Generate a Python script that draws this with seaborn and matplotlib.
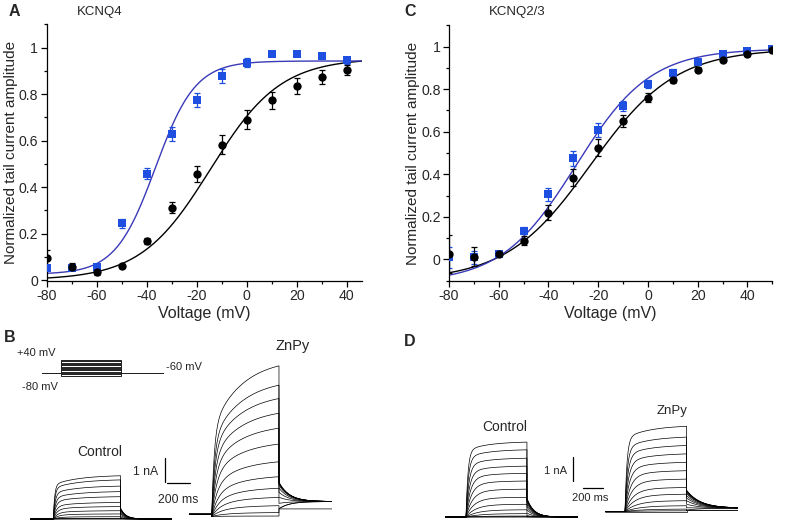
import numpy as np
import pandas as pd
import matplotlib
matplotlib.use("Agg")
import matplotlib.pyplot as plt
import seaborn as sns
from matplotlib.ticker import MultipleLocator, FixedLocator, FixedFormatter

sns.set_theme(style="ticks")
plt.rcParams['font.family'] = ['Liberation Sans', 'DejaVu Sans']
plt.rcParams['axes.unicode_minus'] = False

# ---------------- data: normalized tail current (panels A, C) ----------------
volt_A = [-80, -70, -60, -50, -40, -30, -20, -10, 0, 10, 20, 30, 40]
ctrl_A = [0.097, 0.057, 0.036, 0.060, 0.169, 0.312, 0.458, 0.583, 0.690, 0.774, 0.835, 0.874, 0.903]
ctrl_A_err = [0.034, 0.015, 0.015, 0.008, 0.012, 0.022, 0.035, 0.040, 0.040, 0.036, 0.035, 0.030, 0.022]
znpy_A = [0.050, 0.052, 0.055, 0.244, 0.458, 0.630, 0.776, 0.877, 0.936, 0.974, 0.974, 0.964, 0.946]
znpy_A_err = [0.008, 0.008, 0.008, 0.020, 0.025, 0.030, 0.030, 0.030, 0.020, 0.010, 0.008, 0.012, 0.015]

volt_C = [-80, -70, -60, -50, -40, -30, -20, -10, 0, 10, 20, 30, 40, 50]
ctrl_C = [0.024, 0.013, 0.024, 0.088, 0.219, 0.384, 0.525, 0.650, 0.760, 0.842, 0.892, 0.936, 0.966, 0.983]
ctrl_C_err = [0.09, 0.045, 0.008, 0.02, 0.035, 0.04, 0.04, 0.03, 0.02, 0.015, 0.012, 0.01, 0.008, 0.006]
znpy_C = [0.010, 0.010, 0.024, 0.135, 0.306, 0.475, 0.608, 0.721, 0.823, 0.878, 0.929, 0.966, 0.978, 0.987]
znpy_C_err = [0.05, 0.03, 0.008, 0.015, 0.03, 0.035, 0.035, 0.025, 0.02, 0.018, 0.012, 0.01, 0.008, 0.006]

# Boltzmann fit parameters (A1, A2, V50, k)
fit_ctrl_A = [0.0, 0.955, -14.5, 14.0]
fit_znpy_A = [0.025, 0.943, -36.5, 8.0]
fit_ctrl_C = [-0.10, 0.99, -23.0, 17.0]
fit_znpy_C = [-0.11, 0.99, -29.0, 15.0]

# ---------------- data: current traces (panels B, D), nA at end of step ----------------
amp_B_ctrl = [0.0, 0.01, 0.03, 0.10, 0.22, 0.36, 0.54, 0.72, 0.97, 1.19, 1.43, 1.70, 1.88]
amp_B_znpy = [0.02, 0.17, 0.47, 0.83, 1.23, 1.73, 2.38, 3.15, 3.84, 4.49, 5.13, 5.71, 6.55]
amp_D_ctrl = [0.0, 0.01, 0.04, 0.14, 0.30, 0.53, 0.82, 1.16, 1.50, 1.82, 2.12, 2.45, 2.80, 3.12]
amp_D_znpy = [0.0, 0.03, 0.10, 0.24, 0.45, 0.72, 1.00, 1.35, 1.70, 2.05, 2.40, 2.75, 3.10, 3.55]
protocol_steps = [-80, -70, -60, -50, -40, -30, -20, -10, 0, 10, 20, 30, 40]
protocol_hold = -60

BLUE_MK = "#1f4fe0"
BLUE_LN = "#3a3ab8"

W, H = 802, 527
fig = plt.figure(figsize=(W / 100, H / 100), dpi=100)


def px_axes(x0, y0, x1, y1):
    return fig.add_axes([x0 / W, 1 - y1 / H, (x1 - x0) / W, (y1 - y0) / H])


def ftext(x, y, s, **kw):
    fig.text(x / W, 1 - y / H, s, **kw)


def boltz(v, p):
    a1, a2, v50, k = p
    return a2 + (a1 - a2) / (1 + np.exp((v - v50) / k))


def iv_panel(ax, volt, ctrl, cerr, znpy, zerr, pc, pz, xlim, ylim):
    vf = np.linspace(xlim[0], xlim[1], 300)
    sns.lineplot(x=vf, y=boltz(vf, pc), ax=ax, color="black", lw=1.0, estimator=None, sort=False)
    sns.lineplot(x=vf, y=boltz(vf, pz), ax=ax, color=BLUE_LN, lw=1.0, estimator=None, sort=False)
    ax.errorbar(volt, znpy, yerr=zerr, fmt="none", ecolor=BLUE_MK, elinewidth=0.9, capsize=2, capthick=0.9, zorder=3)
    ax.errorbar(volt, ctrl, yerr=cerr, fmt="none", ecolor="black", elinewidth=0.9, capsize=2, capthick=0.9, zorder=3)
    sns.scatterplot(x=volt, y=znpy, ax=ax, marker="s", s=28, color=BLUE_MK, edgecolor=BLUE_MK, linewidth=0, zorder=4)
    sns.scatterplot(x=volt, y=ctrl, ax=ax, marker="o", s=36, color="black", edgecolor="black", linewidth=0, zorder=5)
    ax.set_xlim(*xlim)
    ax.set_ylim(*ylim)
    sns.despine(ax=ax)
    ax.xaxis.set_major_locator(FixedLocator([-80, -60, -40, -20, 0, 20, 40]))
    ax.xaxis.set_minor_locator(MultipleLocator(10))
    yt = [0, 0.2, 0.4, 0.6, 0.8, 1.0]
    ax.yaxis.set_major_locator(FixedLocator(yt))
    ax.yaxis.set_major_formatter(FixedFormatter(["0", "0.2", "0.4", "0.6", "0.8", "1"]))
    ax.yaxis.set_minor_locator(MultipleLocator(0.1))
    ax.tick_params(which="major", direction="out", length=4, width=0.9, labelsize=10.2, pad=2, color="black")
    ax.tick_params(which="minor", direction="out", length=2.5, width=0.9, color="black")
    for s in ("left", "bottom"):
        ax.spines[s].set_linewidth(0.9)
        ax.spines[s].set_color("black")
    ax.set_xlabel("Voltage (mV)", fontsize=11.5, labelpad=2)
    ax.set_ylabel("Normalized tail current amplitude", fontsize=11, labelpad=0.5)


axA = px_axes(46.7, 24.5, 361.7, 281)
iv_panel(axA, volt_A, ctrl_A, ctrl_A_err, znpy_A, znpy_A_err, fit_ctrl_A, fit_znpy_A, (-80, 46), (-0.004, 1.1))
axC = px_axes(449, 25.3, 772.3, 280.6)
iv_panel(axC, volt_C, ctrl_C, ctrl_C_err, znpy_C, znpy_C_err, fit_ctrl_C, fit_znpy_C, (-80, 50), (-0.1, 1.1))


# ---------------- current traces ----------------
def trace_axes(onset_px, base_px, px_per_ms, px_per_nA, t_range, i_range):
    t0, t1 = t_range
    i0, i1 = i_range
    ax = px_axes(onset_px + t0 * px_per_ms, base_px - i1 * px_per_nA,
                 onset_px + t1 * px_per_ms, base_px - i0 * px_per_nA)
    ax.set_xlim(t0, t1)
    ax.set_ylim(i0, i1)
    ax.axis("off")
    return ax


def draw_traces(ax, amps, tail_norm, pre, step, tail, tau_f, tau_s, a_fast,
                tail_lo, tail_hi, tail_inf, tau_tail, pre_level=0.0):
    amps = np.asarray(amps, float)
    n = len(amps)
    tfs = np.geomspace(tau_f[1], tau_f[0], n)  # slow at negative, fast at positive steps
    tn = np.asarray(tail_norm, float)
    tn = (tn - tn.min()) / (tn.max() - tn.min())
    rows = []
    t_on = np.linspace(0, step, 400)
    t_tl = np.linspace(0, tail, 250)
    for i in range(n):
        shape = 1 - a_fast * np.exp(-t_on / tfs[i]) - (1 - a_fast) * np.exp(-t_on / tau_s)
        cur = amps[i] * shape / shape[-1]
        i0 = tail_lo + (tail_hi - tail_lo) * tn[i]
        inf = tail_inf if amps[i] > 0.05 else min(tail_inf, i0)
        ctail = inf + (i0 - inf) * np.exp(-t_tl / tau_tail)
        t = np.concatenate([[-pre, 0], t_on, step + t_tl])
        y = np.concatenate([[pre_level, pre_level], cur, ctail])
        rows.append(pd.DataFrame({"t": t, "i": y, "trace": i}))
    df = pd.concat(rows, ignore_index=True)
    sns.lineplot(data=df, x="t", y="i", units="trace", estimator=None, sort=False,
                 ax=ax, color="black", lw=0.5, legend=False)


# B: KCNQ4
pxms_B = 23 / 200
axBc = trace_axes(53.3, 519, pxms_B, 23, (-200, 1030), (-0.3, 2.3))
draw_traces(axBc, amp_B_ctrl, ctrl_A, 200, 585, 445, (12, 80), 220, 0.78,
            0.0, 0.47, 0.0, 45)
axBz = trace_axes(211.7, 516.5, pxms_B, 23, (-200, 1045), (-0.3, 7.0))
draw_traces(axBz, amp_B_znpy, znpy_A, 200, 585, 460, (22, 110), 260, 0.55,
            0.33, 1.48, 0.65, 90, pre_level=0.1)

# protocol (B)
axP = px_axes(41.7, 360, 163.3, 375.7)
pt = [0, 150, 150, 626, 626, 960]
prot = []
for k, v in enumerate(protocol_steps):
    prot.append(pd.DataFrame({"t": pt, "v": [protocol_hold, protocol_hold, v, v, protocol_hold, protocol_hold], "s": k}))
prot = pd.concat(prot, ignore_index=True)
sns.lineplot(data=prot, x="t", y="v", units="s", estimator=None, sort=False, ax=axP,
             color="#222222", lw=0.7, legend=False)
for ln in axP.lines:
    ln.set_clip_on(False)
axP.set_xlim(0, 960)
axP.set_ylim(-80, 40)
axP.axis("off")

# scale bars B
axSB = trace_axes(165, 482.5, pxms_B, 24, (0, 220), (0, 1))
axSB.plot([0, 0], [0.03, 1.03], color="black", lw=0.9, clip_on=False)
axSB.plot([15, 215], [-0.03, -0.03], color="black", lw=0.9, clip_on=False)

# D: KCNQ2/3
pxms_D = 19.5 / 200
axDc = trace_axes(466, 517, pxms_D, 24, (-215, 1150), (-0.3, 3.4))
draw_traces(axDc, amp_D_ctrl, ctrl_C, 215, 625, 530, (20, 260), 220, 0.88,
            0.0, 0.78, 0.0, 70)
axDz = trace_axes(625, 511.5, pxms_D, 24, (-205, 1160), (-0.3, 3.9))
draw_traces(axDz, amp_D_znpy, znpy_C, 205, 632, 530, (20, 260), 260, 0.85,
            0.05, 0.88, 0.14, 140)

axSD = trace_axes(573.3, 480.7, pxms_D, 24, (0, 300), (0, 1))
axSD.plot([0, 0], [0, 1], color="black", lw=0.9, clip_on=False)
axSD.plot([100, 300], [-0.29, -0.29], color="black", lw=0.9, clip_on=False)

# ---------------- text ----------------
ftext(14, 12, "A", fontsize=11.5, fontweight="bold", ha="center", va="center")
ftext(100, 12, "KCNQ4", fontsize=9.5, ha="center", va="center")
ftext(410, 12, "C", fontsize=11.5, fontweight="bold", ha="center", va="center")
ftext(517, 12, "KCNQ2/3", fontsize=9.5, ha="center", va="center")
ftext(10, 337, "B", fontsize=11.5, fontweight="bold", ha="center", va="center")
ftext(410, 341, "D", fontsize=11.5, fontweight="bold", ha="center", va="center")

ftext(36, 353, "+40 mV", fontsize=8, ha="center", va="center")
ftext(40, 387, "-80 mV", fontsize=8, ha="center", va="center")
ftext(184, 367, "-60 mV", fontsize=8, ha="center", va="center")
ftext(99.5, 452, "Control", fontsize=10, ha="center", va="center")
ftext(293, 346, "ZnPy", fontsize=10.5, ha="center", va="center")
ftext(158, 472, "1 nA", fontsize=8.8, ha="right", va="center")
ftext(178.5, 500, "200 ms", fontsize=8.8, ha="center", va="center")

ftext(504.7, 427, "Control", fontsize=10, ha="center", va="center")
ftext(671.7, 411, "ZnPy", fontsize=9.5, ha="center", va="center")
ftext(567, 471, "1 nA", fontsize=8, ha="right", va="center")
ftext(590.5, 498, "200 ms", fontsize=8, ha="center", va="center")

fig.savefig("out.png", dpi=100)
